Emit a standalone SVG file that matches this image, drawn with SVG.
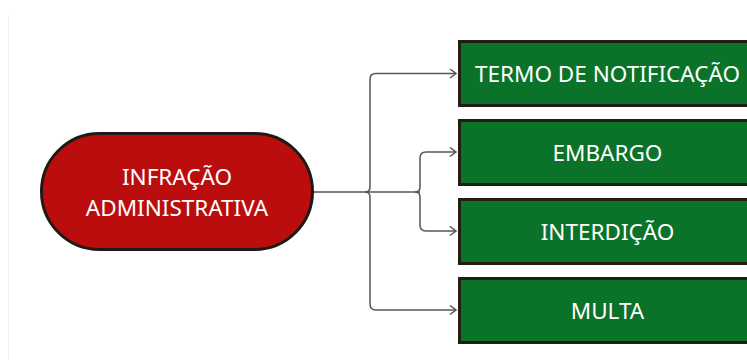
<svg xmlns="http://www.w3.org/2000/svg" width="747" height="360" viewBox="0 0 747 360">
<style>
.lbl{font-family:"Noto Sans","Open Sans",sans-serif;font-size:22.5px;fill:#ffffff;text-anchor:middle}
.box{fill:#0b7329;stroke:#231d14;stroke-width:3}
.conn{fill:none;stroke:#555555;stroke-width:1.5}
</style>
<defs>
<marker id="arr" markerWidth="10" markerHeight="12" refX="7" refY="5" orient="auto" markerUnits="userSpaceOnUse">
<path d="M1,0.5 L7,5 L1,9.5" fill="none" stroke="#555555" stroke-width="1.5"/>
</marker>
</defs>
<rect width="747" height="360" fill="#ffffff"/>
<line x1="8.5" y1="15" x2="8.5" y2="360" stroke="#efefef" stroke-width="1"/>
<g id="connectors">
<path class="conn" d="M313,192 H420"/>
<path class="conn" d="M365,192 Q370,192 370,187 V79 Q370,73.5 376,73.5 H456" marker-end="url(#arr)"/>
<path class="conn" d="M365,192 Q370,192 370,197 V304 Q370,310 376,310 H456" marker-end="url(#arr)"/>
<path class="conn" d="M415,192 Q420,192 420,187 V158 Q420,152 426,152 H456" marker-end="url(#arr)"/>
<path class="conn" d="M415,192 Q420,192 420,197 V225 Q420,231 426,231 H456" marker-end="url(#arr)"/>
</g>
<g id="infracao">
<rect x="41.5" y="133.5" width="271" height="116" rx="58" ry="58" fill="#bb0d0d" stroke="#1e1a16" stroke-width="3"/>
<text class="lbl" x="177" y="185">INFRAÇÃO</text>
<text class="lbl" x="177" y="215.5">ADMINISTRATIVA</text>
</g>
<g id="termo">
<rect class="box" x="459.5" y="41.5" width="400" height="64"/>
<text class="lbl" x="607.5" y="82">TERMO DE NOTIFICAÇÃO</text>
</g>
<g id="embargo">
<rect class="box" x="459.5" y="120.5" width="400" height="64"/>
<text class="lbl" x="607.5" y="161">EMBARGO</text>
</g>
<g id="interdicao">
<rect class="box" x="459.5" y="199.5" width="400" height="64"/>
<text class="lbl" x="607.5" y="240">INTERDIÇÃO</text>
</g>
<g id="multa">
<rect class="box" x="459.5" y="278.5" width="400" height="64"/>
<text class="lbl" x="607.5" y="319">MULTA</text>
</g>
</svg>
